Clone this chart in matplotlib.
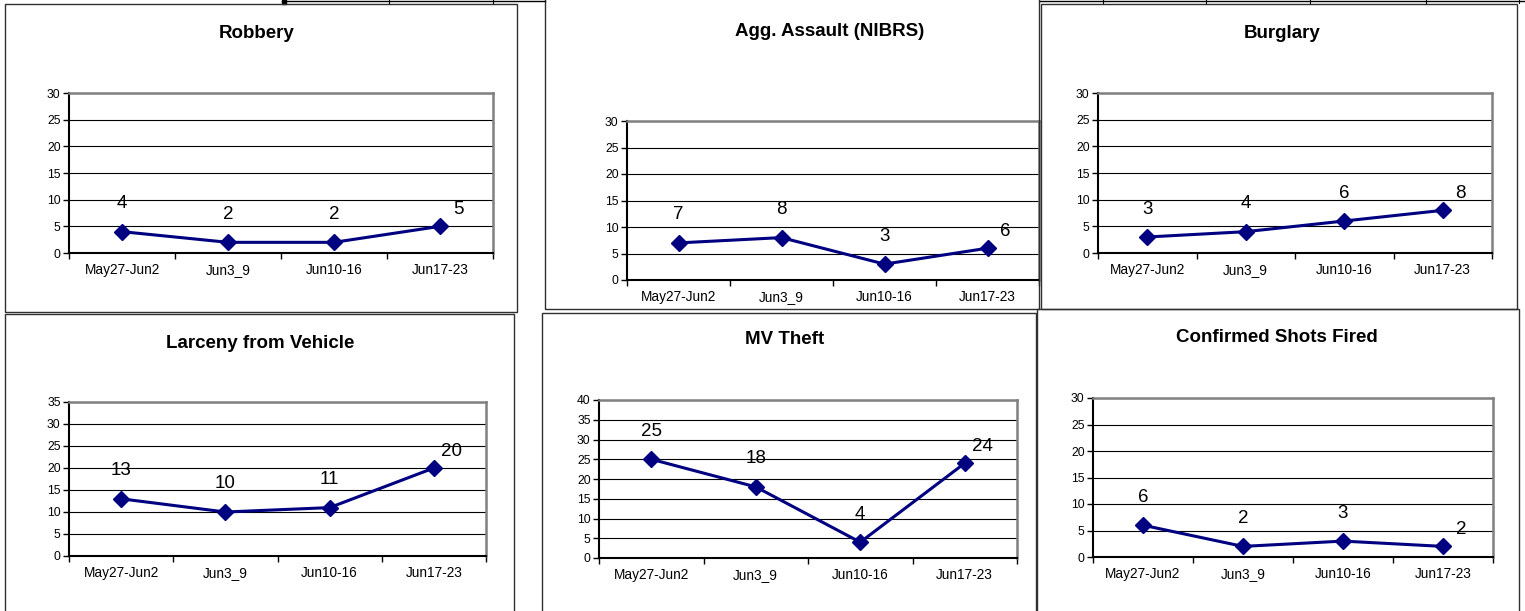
import matplotlib.pyplot as plt
from matplotlib.patches import Rectangle
from matplotlib.lines import Line2D

plt.rcParams['font.family'] = ['Liberation Sans', 'DejaVu Sans']

# weeks on the x axis
weeks = ["May27-Jun2", "Jun3_9", "Jun10-16", "Jun17-23"]

# one series per crime type
robbery = [4, 2, 2, 5]
agg_assault = [7, 8, 3, 6]
burglary = [3, 4, 6, 8]
larceny_vehicle = [13, 10, 11, 20]
mv_theft = [25, 18, 4, 24]
shots_fired = [6, 2, 3, 2]

titles = ["Robbery", "Agg. Assault (NIBRS)", "Burglary",
          "Larceny from Vehicle", "MV Theft", "Confirmed Shots Fired"]
series = [robbery, agg_assault, burglary, larceny_vehicle, mv_theft, shots_fired]
y_max = [30, 30, 30, 35, 40, 30]

# layout in pixels of the original screenshot
W, H = 1525, 611
plot_px = [(69, 93, 493, 253), (627, 121, 1039, 280), (1098, 93, 1492, 253),
           (69, 402, 486, 556), (599, 400, 1017, 558), (1093, 398, 1493, 557)]
title_px = [(257, 34), (830, 31), (1282, 34), (260, 343), (785, 340), (1277, 338)]
frame_px = [(5, 4, 517, 312), (545, -2, 1039, 309), (1041, 4, 1517, 309),
            (5, 314, 514, 615), (542, 313, 1036, 615), (1037, 309, 1519, 615)]

NAVY = "#000080"
GRAY = "#808080"
PT = 0.72  # points per pixel at dpi 100

fig = plt.figure(figsize=(W / 100, H / 100), dpi=100)
fig.patch.set_facecolor("white")

# spreadsheet cell borders peeking out at the top
fig.lines.append(Line2D([282 / W, 545 / W], [1 - 1 / H] * 2, color="black", lw=1, transform=fig.transFigure))
fig.lines.append(Line2D([1040 / W, 1525 / W], [1 - 1 / H] * 2, color="black", lw=1, transform=fig.transFigure))
fig.patches.append(Rectangle((282 / W, 1 - 4 / H), 4 / W, 4 / H, color="black", transform=fig.transFigure))
for xv in [389, 493, 1103, 1206, 1310, 1426, 1519]:
    fig.lines.append(Line2D([xv / W] * 2, [1, 1 - 3 / H], color="black", lw=0.8, transform=fig.transFigure))

def px_rect(x0, y0, x1, y1):
    return [x0 / W, 1 - y1 / H, (x1 - x0) / W, (y1 - y0) / H]

for i in range(6):
    r = px_rect(*frame_px[i])
    fig.patches.append(Rectangle((r[0], r[1]), r[2], r[3], fill=False, edgecolor="#303030",
                                 lw=1.0, transform=fig.transFigure))

    ax = fig.add_axes(px_rect(*plot_px[i]))
    vals = series[i]
    xs = [k + 0.5 for k in range(len(vals))]
    ax.plot(xs, vals, color=NAVY, lw=2.2, marker="D", markersize=8, zorder=3, clip_on=False)

    # data labels sit above each point, the last one up and to the right
    for k, v in enumerate(vals):
        dx, dy = (18, 17) if k == len(vals) - 1 else (0, 28)
        ax.annotate(str(v), (xs[k], v), xytext=(dx * PT, dy * PT), textcoords="offset points",
                    ha="center", va="center", fontsize=13.5, color="black")

    # category names under the axis
    for k, w in enumerate(weeks):
        ax.annotate(w, (xs[k], 0), xycoords=("data", "axes fraction"), xytext=(0, -24 * PT),
                    textcoords="offset points", ha="center", va="bottom", fontsize=9.8)

    ax.set_xlim(0, len(vals))
    ax.set_ylim(0, y_max[i])
    ax.set_yticks(range(0, y_max[i] + 1, 5))
    ax.set_xticks(range(len(vals) + 1))
    ax.set_xticklabels([])
    ax.tick_params(axis="x", direction="out", length=4, width=1, color="black")
    ax.tick_params(axis="y", direction="out", length=4, width=1, labelsize=8.7, pad=2)

    ax.yaxis.grid(True, color="black", lw=0.8)
    ax.set_axisbelow(True)
    ax.spines["left"].set_color("black")
    ax.spines["bottom"].set_color("black")
    ax.spines["left"].set_linewidth(1.5)
    ax.spines["bottom"].set_linewidth(1.5)
    ax.spines["top"].set_color(GRAY)
    ax.spines["right"].set_color(GRAY)
    ax.spines["top"].set_linewidth(1.8)
    ax.spines["right"].set_linewidth(1.8)

    tx, ty = title_px[i]
    fig.text(tx / W, 1 - ty / H, titles[i], ha="center", va="center",
             fontsize=13.5, fontweight="bold")

fig.savefig("out.png", dpi=100, facecolor="white")
